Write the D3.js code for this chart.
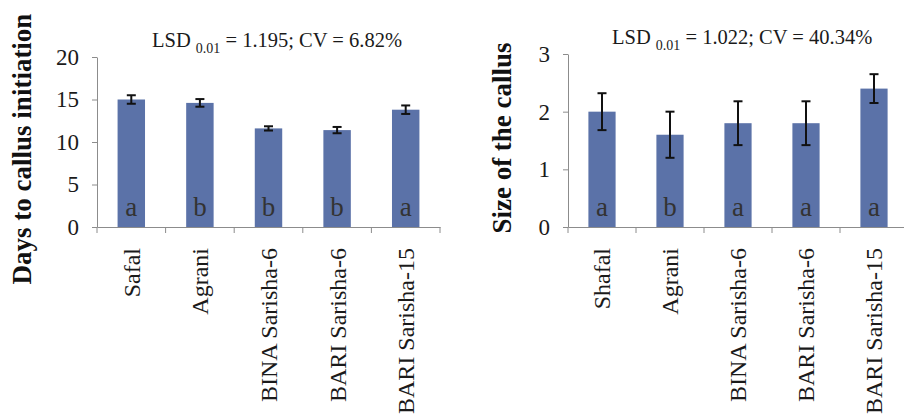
<!DOCTYPE html>
<html lang="en">
<head>
  <meta charset="UTF-8">
  <title>Callus initiation and size</title>
  <script src="https://d3js.org/d3.v7.min.js"></script>
  <style>
    body { margin: 0; padding: 0; background: #fff; }
    svg { display: block; font-family: 'Liberation Serif', 'DejaVu Serif', serif; }
    .axis path, .axis line { stroke: #8c8c8c; }
    .axis text { fill: #1a1a1a; font-family: 'Liberation Serif', 'DejaVu Serif', serif; }
  </style>
</head>
<body>
  <div id="chart"></div>
  <script>
    // data
    const cultivarsDays = ["Safal", "Agrani", "BINA Sarisha-6", "BARI Sarisha-6", "BARI Sarisha-15"];
    const cultivarsSize = ["Shafal", "Agrani", "BINA Sarisha-6", "BARI Sarisha-6", "BARI Sarisha-15"];
    const daysMean = [15.0, 14.6, 11.6, 11.4, 13.8];
    const daysErr = [0.5, 0.45, 0.25, 0.37, 0.5];
    const daysLetters = ["a", "b", "b", "b", "a"];
    const sizeMean = [2.0, 1.6, 1.8, 1.8, 2.4];
    const sizeErr = [0.32, 0.4, 0.38, 0.38, 0.25];
    const sizeLetters = ["a", "b", "a", "a", "a"];
    const daysTicks = [0, 5, 10, 15, 20];
    const sizeTicks = [0, 1, 2, 3];

    const svg = d3.select("#chart").append("svg")
      .attr("width", 904)
      .attr("height", 414);

    const barColor = "#5b72a8";

    function panel(opt) {
      const x = d3.scaleBand()
        .domain(opt.cats)
        .range([opt.left, opt.right])
        .paddingInner(0.6)
        .paddingOuter(0.3);
      const y = d3.scaleLinear()
        .domain([0, d3.max(opt.ticks)])
        .range([opt.bottom, opt.top]);

      const rows = opt.cats.map((c, i) => ({ cat: c, v: opt.mean[i], e: opt.err[i], l: opt.letters[i] }));

      // y axis
      svg.append("g")
        .attr("class", "axis")
        .attr("transform", "translate(" + opt.left + ",0)")
        .call(d3.axisLeft(y).tickValues(opt.ticks).tickFormat(d3.format("d"))
          .tickSize(5).tickPadding(13).tickSizeOuter(0))
        .call(g => g.selectAll("text").style("font-size", "23px"));

      // x axis with labels at band centres, ticks at band edges
      const xg = svg.append("g")
        .attr("class", "axis")
        .attr("transform", "translate(0," + opt.bottom + ")")
        .call(d3.axisBottom(x).tickSize(0).tickSizeOuter(0));
      xg.selectAll("text")
        .style("font-size", "24px")
        .attr("text-anchor", "end")
        .attr("transform", "rotate(-90)")
        .attr("x", -21)
        .attr("y", 0)
        .attr("dy", "0.35em");
      xg.selectAll(".edge")
        .data(d3.range(opt.cats.length + 1))
        .enter().append("line")
        .attr("class", "edge")
        .attr("x1", i => x.range()[0] + i * x.step())
        .attr("x2", i => x.range()[0] + i * x.step())
        .attr("y1", 0)
        .attr("y2", 6);

      // bars
      svg.append("g").selectAll("rect")
        .data(rows)
        .enter().append("rect")
        .attr("x", d => x(d.cat))
        .attr("y", d => y(d.v))
        .attr("width", x.bandwidth())
        .attr("height", d => y(0) - y(d.v))
        .attr("fill", barColor);

      // error bars
      const eb = svg.append("g")
        .attr("stroke", "#111")
        .attr("stroke-width", 2);
      rows.forEach(d => {
        const cx = x(d.cat) + x.bandwidth() / 2;
        eb.append("line").attr("x1", cx).attr("x2", cx).attr("y1", y(d.v + d.e)).attr("y2", y(d.v - d.e));
        eb.append("line").attr("x1", cx - 4.5).attr("x2", cx + 4.5).attr("y1", y(d.v + d.e)).attr("y2", y(d.v + d.e));
        eb.append("line").attr("x1", cx - 4.5).attr("x2", cx + 4.5).attr("y1", y(d.v - d.e)).attr("y2", y(d.v - d.e));
      });

      // significance letters
      svg.append("g").selectAll("text")
        .data(rows)
        .enter().append("text")
        .attr("x", d => x(d.cat) + x.bandwidth() / 2)
        .attr("y", opt.bottom - 11)
        .attr("text-anchor", "middle")
        .style("font-size", "27px")
        .style("fill", "#333")
        .text(d => d.l);

      // LSD / CV note
      const t = svg.append("text")
        .attr("x", opt.noteX)
        .attr("y", opt.noteY)
        .style("font-size", "20.5px")
        .style("fill", "#1a1a1a");
      t.append("tspan").text("LSD ");
      t.append("tspan").attr("dy", 6).style("font-size", "14px").text("0.01");
      t.append("tspan").attr("dy", -6).text(" = " + opt.lsd + "; CV = " + opt.cv);

      // y title
      svg.append("text")
        .attr("transform", "translate(" + opt.titleX + "," + opt.titleY + ") rotate(-90)")
        .attr("text-anchor", "middle")
        .style("font-size", "27px")
        .style("font-weight", "bold")
        .style("fill", "#111")
        .text(opt.title);
    }

    panel({
      cats: cultivarsDays, mean: daysMean, err: daysErr, letters: daysLetters, ticks: daysTicks,
      left: 97, right: 440, top: 57, bottom: 227,
      noteX: 152, noteY: 47, lsd: "1.195", cv: "6.82%",
      title: "Days to callus initiation", titleX: 31, titleY: 149
    });

    panel({
      cats: cultivarsSize, mean: sizeMean, err: sizeErr, letters: sizeLetters, ticks: sizeTicks,
      left: 568, right: 908, top: 54, bottom: 227,
      noteX: 612, noteY: 44, lsd: "1.022", cv: "40.34%",
      title: "Size of the callus", titleX: 511, titleY: 138
    });
  </script>
</body>
</html>
